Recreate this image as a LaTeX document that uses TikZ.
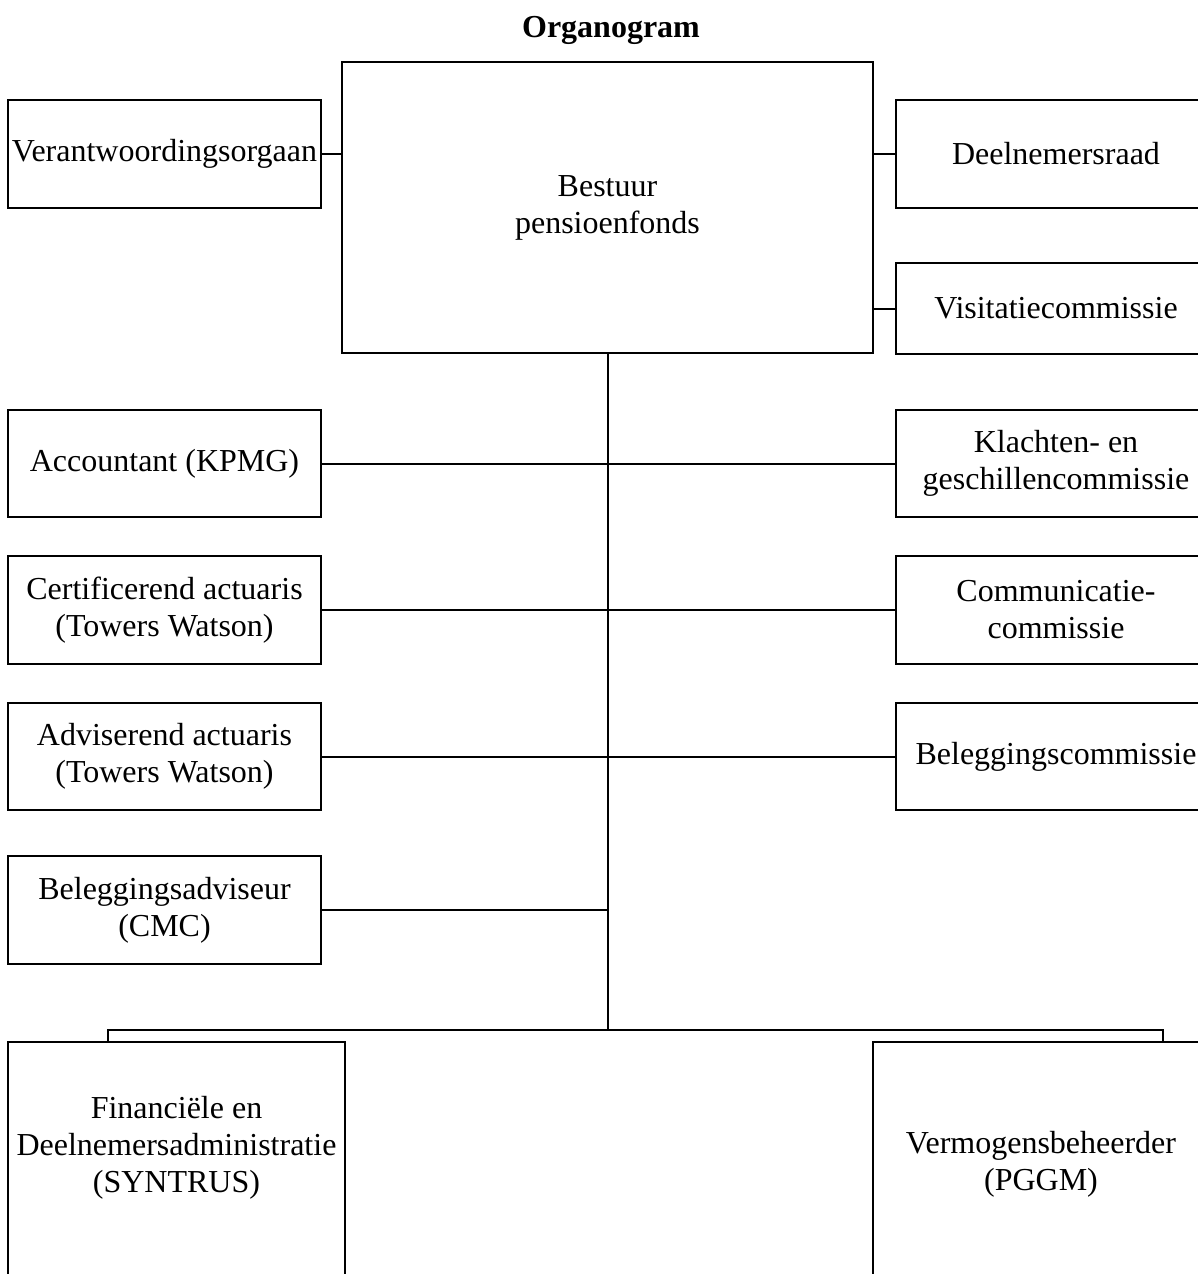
\documentclass[tikz,border=0pt]{standalone}
\usepackage{fontspec}
\setmainfont{Liberation Serif}
\begin{document}
\begin{tikzpicture}[x=1pt,y=-1pt,
  txt/.style={align=center, inner sep=0pt, font=\fontsize{32}{37}\selectfont},
  box/.style={txt, draw, line width=2pt, minimum width=#1},
  box/.default=313pt,
  frame/.style={draw, line width=2pt, inner sep=0pt},
  conn/.style={line width=2pt}]
\useasboundingbox (0,0) rectangle (1198,1274);
\clip (0,0) rectangle (1198,1274);

\node[txt, font=\fontsize{32}{37}\selectfont\bfseries] (title) at (611,30) {Organogram};

\node[box=531pt, minimum height=291pt] (bes) at (607.5,207.5) {Bestuur\\pensioenfonds};

\node[box, minimum height=108pt] (ver) at (164.5,154) {Verantwoordingsorgaan};
\node[box=320pt, minimum height=108pt] (dee) at (1056,154) {Deelnemersraad};
\node[box=320pt, minimum height=91pt] (vis) at (1056,308.5) {Visitatiecommissie};

\node[box, minimum height=107pt] (acc) at (164.5,463.5) {Accountant (KPMG)};
\node[box=320pt, minimum height=107pt] (kla) at (1056,463.5) {Klachten- en\\geschillencommissie};

\node[box, minimum height=108pt] (cer) at (164.5,610) {Certificerend actuaris\\(Towers Watson)};
\node[box=320pt, minimum height=108pt] (com) at (1056,610) {Communicatie-\\commissie};

\node[box, minimum height=107pt] (adv) at (164.5,756.5) {Adviserend actuaris\\(Towers Watson)};
\node[box=320pt, minimum height=107pt] (bel) at (1056,756.5) {Beleggingscommissie};

\node[box, minimum height=108pt] (bad) at (164.5,910) {Beleggingsadviseur\\(CMC)};

\node[frame, minimum width=337pt, minimum height=300pt, anchor=north,
  label={[txt, yshift=44pt]center:Financiële en\\Deelnemersadministratie\\(SYNTRUS)}]
  (fin) at (176.5,1041) {};
\node[frame, minimum width=336pt, minimum height=300pt, anchor=north,
  label={[txt, yshift=28pt]center:Vermogensbeheerder\\(PGGM)}]
  (vmg) at (1041,1041) {};

\coordinate (busL) at (108,1030);
\coordinate (busR) at (1163,1030);

\draw[conn] (ver.east) -- (ver.east -| bes.west);
\draw[conn] (dee.west -| bes.east) -- (dee.west);
\draw[conn] (vis.west -| bes.east) -- (vis.west);
\draw[conn] (bes.south) -- (bes.south |- busL);
\draw[conn] (acc.east) -- (kla.west);
\draw[conn] (cer.east) -- (com.west);
\draw[conn] (adv.east) -- (bel.west);
\draw[conn] (bad.east) -- (bad.east -| bes.south);
\draw[conn] (fin.north -| busL) -- (busL) -- (busR) -- (vmg.north -| busR);
\end{tikzpicture}
\end{document}
